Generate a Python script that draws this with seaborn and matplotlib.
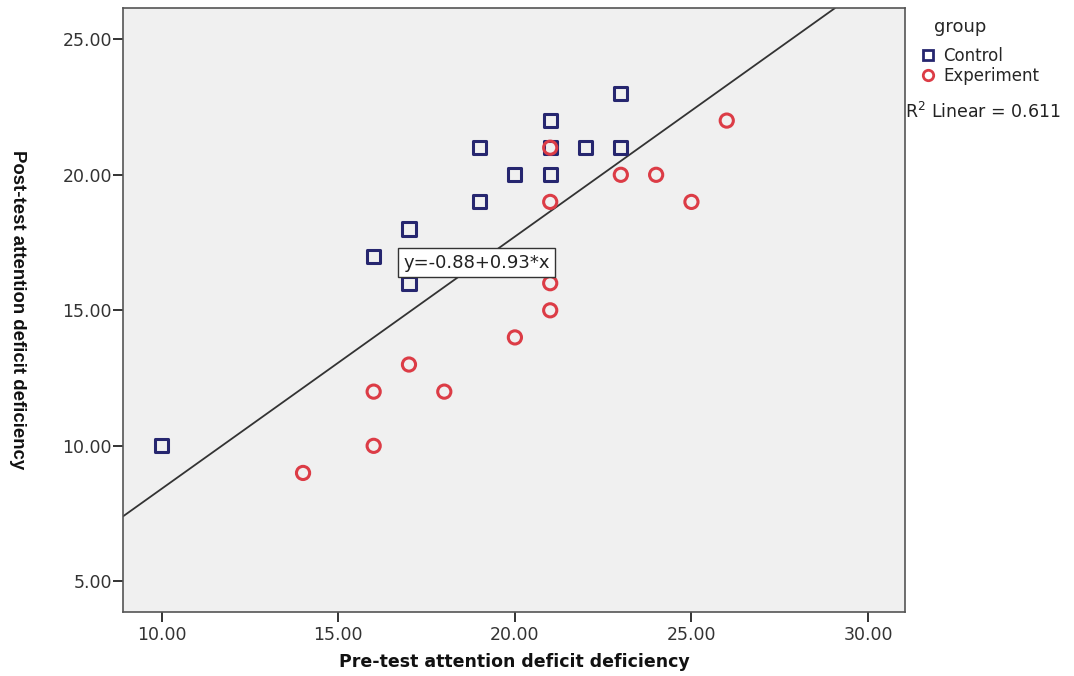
import numpy as np
import pandas as pd
import matplotlib
matplotlib.use("Agg")
import matplotlib.pyplot as plt
import seaborn as sns
from matplotlib.lines import Line2D

# -------------------- DATA --------------------
control_pre = [10, 16, 17, 17, 19, 19, 20, 21, 21, 21, 22, 23, 23]
control_post = [10, 17, 18, 16, 21, 19, 20, 22, 21, 20, 21, 23, 21]
experiment_pre = [14, 16, 16, 17, 18, 20, 21, 21, 21, 21, 23, 24, 25, 26]
experiment_post = [9, 12, 10, 13, 12, 14, 21, 19, 16, 15, 20, 20, 19, 22]
groups = ["Control", "Experiment"]

fit_intercept = -0.88
fit_slope = 0.93
r_squared = 0.611

x_ticks = [10, 15, 20, 25, 30]
y_ticks = [5, 10, 15, 20, 25]

df = pd.DataFrame({
    "pre": control_pre + experiment_pre,
    "post": control_post + experiment_post,
    "group": ["Control"] * len(control_pre) + ["Experiment"] * len(experiment_pre),
})

# -------------------- STYLE --------------------
sns.set_style("white")
plt.rcParams["font.family"] = ["DejaVu Sans"]

palette = {"Control": "#26266f", "Experiment": "#dc3c46"}
markers = {"Control": "s", "Experiment": "o"}

fig = plt.figure(figsize=(10.74, 6.76), dpi=100)
ax = fig.add_axes([0.1145, 0.0947, 0.7282, 0.8933])
ax.set_facecolor("#f0f0f0")

# -------------------- PLOT --------------------
sns.scatterplot(data=df, x="pre", y="post", hue="group", style="group",
                palette=palette, markers=markers, s=90, linewidth=2.2,
                legend=False, ax=ax, zorder=3)
pc = ax.collections[0]
pc.set_edgecolors(pc.get_facecolors())
pc.set_facecolors("none")

# fit line (total)
ax.axline((0, fit_intercept), slope=fit_slope, color="#333333", lw=1.3, zorder=2)
ax.text(18.92, 16.75, f"y={fit_intercept:.2f}+{fit_slope:.2f}*x", ha="center", va="center",
        fontsize=13, color="#222222", zorder=4,
        bbox=dict(boxstyle="square,pad=0.3", fc="white", ec="#333333", lw=1))

ax.set_xlim(8.9, 31.05)
ax.set_ylim(3.87, 26.15)
ax.set_xticks(x_ticks)
ax.set_yticks(y_ticks)
ax.set_xticklabels([f"{t:.2f}" for t in x_ticks])
ax.set_yticklabels([f"{t:.2f}" for t in y_ticks])
ax.tick_params(axis="both", bottom=True, left=True, direction="out", length=7, width=1.4,
               color="#333333", labelsize=12.5, labelcolor="#333333", pad=1)
ax.tick_params(axis="x", pad=3)
for side in ax.spines.values():
    side.set_color("#555555")
    side.set_linewidth(1.2)

ax.set_xlabel("Pre-test attention deficit deficiency", fontsize=12.5, fontweight="bold",
              color="#111111")
ax.xaxis.set_label_coords(0.5, -0.068)
ax.set_ylabel("Post-test attention deficit deficiency", fontsize=13.4, fontweight="bold",
              color="#111111", rotation=270, va="center", family="Liberation Sans")
ax.yaxis.set_label_coords(-0.135, 0.5)

# -------------------- LEGEND --------------------
handles = [Line2D([], [], marker=markers[g], ls="none", markersize=7.5,
                  markerfacecolor="none", markeredgecolor=palette[g], markeredgewidth=2)
           for g in groups]
leg = fig.legend(handles, groups, title="group", loc="upper left",
                 bbox_to_anchor=(0.852, 0.983), frameon=False, fontsize=12,
                 title_fontsize=13, handlelength=0.8, handletextpad=0.5,
                 labelspacing=0.1, borderaxespad=0)
leg._legend_box.align = "left"
leg._legend_box.sep = 8
leg.get_title().set_position((12, 0))
fig.text(0.843, 0.834, f"R$^2$ Linear = {r_squared:.3f}",
         fontsize=12.5, color="#222222", va="center", ha="left")

fig.savefig("out.png", dpi=100)
